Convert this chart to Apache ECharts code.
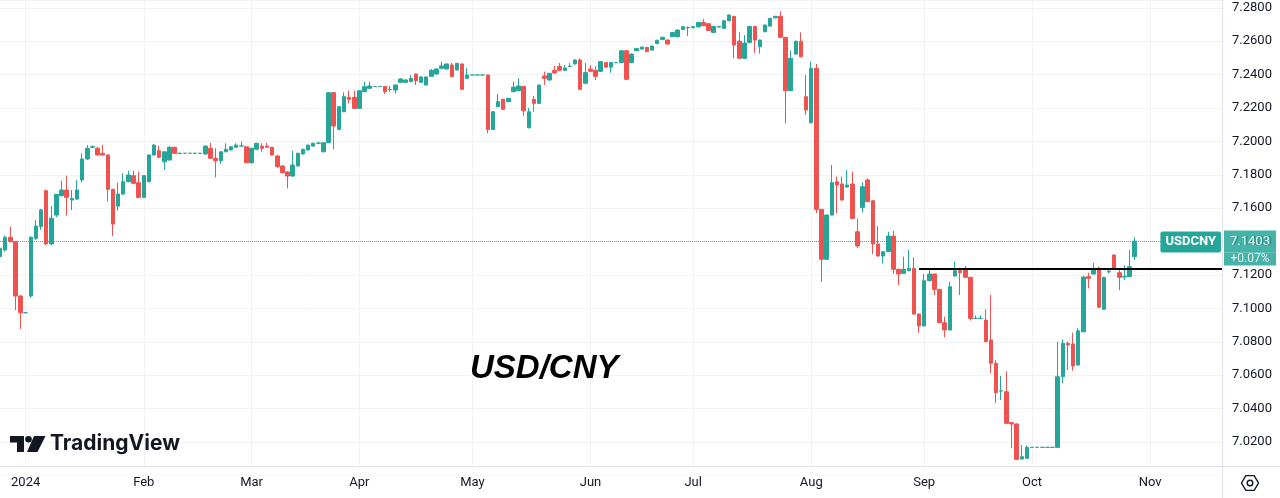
<!DOCTYPE html>
<html><head><meta charset="utf-8">
<script src="https://cdn.jsdelivr.net/npm/echarts@6/dist/echarts.min.js"></script>
<style>html,body{margin:0;padding:0;background:#fff}#c{width:1280px;height:498px}</style>
</head><body><div id="c"></div>
<script>
// ---------- categories (weekday trading days) ----------
const categories = [
'2023-12-25','2023-12-26','2023-12-27','2023-12-28','2023-12-29',
'2024-01-01','2024-01-02','2024-01-03','2024-01-04','2024-01-05','2024-01-08','2024-01-09','2024-01-10','2024-01-11','2024-01-12','2024-01-15','2024-01-16','2024-01-17','2024-01-18','2024-01-19','2024-01-22','2024-01-23','2024-01-24','2024-01-25','2024-01-26','2024-01-29','2024-01-30','2024-01-31',
'2024-02-01','2024-02-02','2024-02-05','2024-02-06','2024-02-07','2024-02-08','2024-02-09','2024-02-12','2024-02-13','2024-02-14','2024-02-15','2024-02-16','2024-02-19','2024-02-20','2024-02-21','2024-02-22','2024-02-23','2024-02-26','2024-02-27','2024-02-28','2024-02-29',
'2024-03-01','2024-03-04','2024-03-05','2024-03-06','2024-03-07','2024-03-08','2024-03-11','2024-03-12','2024-03-13','2024-03-14','2024-03-15','2024-03-18','2024-03-19','2024-03-20','2024-03-21','2024-03-22','2024-03-25','2024-03-26','2024-03-27','2024-03-28','2024-03-29',
'2024-04-01','2024-04-02','2024-04-03','2024-04-04','2024-04-05','2024-04-08','2024-04-09','2024-04-10','2024-04-11','2024-04-12','2024-04-15','2024-04-16','2024-04-17','2024-04-18','2024-04-19','2024-04-22','2024-04-23','2024-04-24','2024-04-25','2024-04-26','2024-04-29','2024-04-30',
'2024-05-01','2024-05-02','2024-05-03','2024-05-06','2024-05-07','2024-05-08','2024-05-09','2024-05-10','2024-05-13','2024-05-14','2024-05-15','2024-05-16','2024-05-17','2024-05-20','2024-05-21','2024-05-22','2024-05-23','2024-05-24','2024-05-27','2024-05-28','2024-05-29','2024-05-30','2024-05-31',
'2024-06-03','2024-06-04','2024-06-05','2024-06-06','2024-06-07','2024-06-10','2024-06-11','2024-06-12','2024-06-13','2024-06-14','2024-06-17','2024-06-18','2024-06-19','2024-06-20','2024-06-21','2024-06-24','2024-06-25','2024-06-26','2024-06-27','2024-06-28',
'2024-07-01','2024-07-02','2024-07-03','2024-07-04','2024-07-05','2024-07-08','2024-07-09','2024-07-10','2024-07-11','2024-07-12','2024-07-15','2024-07-16','2024-07-17','2024-07-18','2024-07-19','2024-07-22','2024-07-23','2024-07-24','2024-07-25','2024-07-26','2024-07-29','2024-07-30','2024-07-31',
'2024-08-01','2024-08-02','2024-08-05','2024-08-06','2024-08-07','2024-08-08','2024-08-09','2024-08-12','2024-08-13','2024-08-14','2024-08-15','2024-08-16','2024-08-19','2024-08-20','2024-08-21','2024-08-22','2024-08-23','2024-08-26','2024-08-27','2024-08-28','2024-08-29','2024-08-30',
'2024-09-02','2024-09-03','2024-09-04','2024-09-05','2024-09-06','2024-09-09','2024-09-10','2024-09-11','2024-09-12','2024-09-13','2024-09-16','2024-09-17','2024-09-18','2024-09-19','2024-09-20','2024-09-23','2024-09-24','2024-09-25','2024-09-26','2024-09-27','2024-09-30',
'2024-10-01','2024-10-02','2024-10-03','2024-10-04','2024-10-07','2024-10-08','2024-10-09','2024-10-10','2024-10-11','2024-10-14','2024-10-15','2024-10-16','2024-10-17','2024-10-18','2024-10-21','2024-10-22','2024-10-23','2024-10-24','2024-10-25','2024-10-28','2024-10-29','2024-10-30','2024-10-31',
'2024-11-01','2024-11-04','2024-11-05','2024-11-06','2024-11-07','2024-11-08','2024-11-11','2024-11-12','2024-11-13','2024-11-14','2024-11-15','2024-11-18','2024-11-19','2024-11-20','2024-11-21'
];
const monthTicks  = ['2024-01-01','2024-02-01','2024-03-01','2024-04-01','2024-05-01','2024-06-03','2024-07-01','2024-08-01','2024-09-02','2024-10-01','2024-11-01'];
const monthLabels = ['2024','Feb','Mar','Apr','May','Jun','Jul','Aug','Sep','Oct','Nov'];

// ---------- OHLC values: [open, close, low, high] ----------
const dec2023 = [
[7.1310,7.1360,7.1300,7.1368],[7.1350,7.1426,7.1340,7.1436],[7.1426,7.1400,7.1396,7.1490],[7.1400,7.1074,7.0990,7.1402],[7.1074,7.0974,7.0877,7.1080]];
const jan2024 = [
[7.0974,7.0974,7.0974,7.0974],[7.1074,7.1426,7.1064,7.1432],[7.1420,7.1493,7.1410,7.1529],[7.1490,7.1590,7.1470,7.1596],[7.1705,7.1386,7.1380,7.1712],
[7.1386,7.1540,7.1380,7.1613],[7.1559,7.1683,7.1547,7.1685],[7.1675,7.1709,7.1670,7.1765],[7.1709,7.1665,7.1555,7.1795],[7.1649,7.1659,7.1589,7.1709],
[7.1655,7.1709,7.1650,7.1769],[7.1769,7.1895,7.1755,7.1929],[7.1895,7.1959,7.1890,7.1978],[7.1965,7.1968,7.1962,7.1978],[7.1959,7.1919,7.1915,7.1968],
[7.1929,7.1919,7.1915,7.1978],[7.1919,7.1713,7.1639,7.1922],[7.1713,7.1505,7.1434,7.1716],[7.1613,7.1685,7.1585,7.1753],[7.1685,7.1759,7.1680,7.1809],
[7.1759,7.1799,7.1755,7.1825],[7.1795,7.1749,7.1745,7.1825],[7.1753,7.1665,7.1660,7.1819]];
const feb2024 = [
[7.1665,7.1795,7.1660,7.1799],[7.1759,7.1919,7.1755,7.1922],[7.1919,7.1978,7.1915,7.1984],[7.1944,7.1905,7.1900,7.1972],[7.1878,7.1938,7.1829,7.1940],
[7.1889,7.1965,7.1885,7.1972],[7.1965,7.1929,7.1925,7.1968],
[7.1929,7.1929,7.1929,7.1929],[7.1929,7.1929,7.1929,7.1929],[7.1929,7.1929,7.1929,7.1929],[7.1929,7.1929,7.1929,7.1929],[7.1929,7.1929,7.1929,7.1929],
[7.1925,7.1972,7.1920,7.1975],[7.1959,7.1899,7.1895,7.1992],[7.1899,7.1884,7.1785,7.1959],[7.1884,7.1938,7.1865,7.1940],[7.1938,7.1953,7.1935,7.1989],
[7.1949,7.1968,7.1945,7.1972],[7.1965,7.1978,7.1962,7.1989],[7.1972,7.1974,7.1970,7.1998],[7.1968,7.1872,7.1870,7.1970]];
const mar2024 = [
[7.1872,7.1959,7.1868,7.1962],[7.1953,7.1989,7.1950,7.1992],[7.1972,7.1959,7.1938,7.1989],[7.1972,7.1965,7.1962,7.1992],[7.1965,7.1919,7.1915,7.1968],
[7.1913,7.1849,7.1841,7.1919],[7.1853,7.1813,7.1808,7.1859],[7.1817,7.1793,7.1719,7.1823],[7.1793,7.1859,7.1788,7.1944],[7.1853,7.1929,7.1850,7.1932],
[7.1925,7.1953,7.1920,7.1956],[7.1949,7.1978,7.1945,7.1980],[7.1972,7.1989,7.1970,7.1992],[7.1989,7.1990,7.1985,7.1998],[7.1938,7.1992,7.1935,7.1995],
[7.1992,7.2292,7.1990,7.2295],[7.2292,7.2092,7.1953,7.2295],[7.2072,7.2208,7.2068,7.2212],[7.2178,7.2268,7.2175,7.2294],[7.2264,7.2252,7.2228,7.2304],
[7.2264,7.2198,7.2195,7.2304]];
const apr2024 = [
[7.2198,7.2304,7.2195,7.2306],[7.2298,7.2328,7.2295,7.2358],[7.2318,7.2332,7.2315,7.2358],[7.2329,7.2329,7.2329,7.2329],[7.2329,7.2329,7.2329,7.2329],
[7.2329,7.2298,7.2284,7.2332],[7.2310,7.2312,7.2298,7.2332],[7.2308,7.2338,7.2288,7.2340],[7.2354,7.2374,7.2350,7.2378],[7.2354,7.2368,7.2350,7.2372],
[7.2358,7.2378,7.2355,7.2398],[7.2404,7.2363,7.2338,7.2406],[7.2354,7.2386,7.2350,7.2390],[7.2338,7.2386,7.2335,7.2390],[7.2390,7.2426,7.2388,7.2434],
[7.2404,7.2434,7.2400,7.2436],[7.2438,7.2452,7.2435,7.2478],[7.2434,7.2464,7.2430,7.2466],[7.2458,7.2388,7.2385,7.2470],[7.2428,7.2468,7.2425,7.2470],
[7.2464,7.2312,7.2308,7.2466],[7.2378,7.2398,7.2375,7.2438]];
const may2024 = [
[7.2398,7.2398,7.2398,7.2398],[7.2398,7.2398,7.2398,7.2398],[7.2398,7.2398,7.2398,7.2398],
[7.2398,7.2072,7.2048,7.2400],[7.2072,7.2178,7.2068,7.2180],[7.2208,7.2238,7.2205,7.2284],[7.2252,7.2192,7.2188,7.2256],[7.2238,7.2258,7.2235,7.2260],
[7.2298,7.2325,7.2295,7.2358],[7.2304,7.2332,7.2300,7.2378],[7.2329,7.2184,7.2152,7.2332],[7.2082,7.2178,7.2078,7.2200],[7.2252,7.2228,7.2178,7.2272],
[7.2228,7.2338,7.2225,7.2340],[7.2392,7.2378,7.2338,7.2418],[7.2368,7.2408,7.2365,7.2410],[7.2426,7.2410,7.2405,7.2452],[7.2450,7.2426,7.2420,7.2470],
[7.2426,7.2440,7.2422,7.2458],[7.2449,7.2451,7.2446,7.2470],[7.2464,7.2488,7.2460,7.2490],[7.2488,7.2312,7.2308,7.2498],[7.2348,7.2412,7.2345,7.2470]];
const jun2024 = [
[7.2434,7.2420,7.2415,7.2458],[7.2426,7.2390,7.2368,7.2450],[7.2420,7.2478,7.2415,7.2480],[7.2472,7.2445,7.2440,7.2475],[7.2445,7.2472,7.2412,7.2475],
[7.2472,7.2472,7.2472,7.2472],[7.2472,7.2543,7.2468,7.2546],[7.2543,7.2372,7.2368,7.2546],[7.2472,7.2523,7.2468,7.2526],[7.2543,7.2557,7.2540,7.2560],
[7.2553,7.2565,7.2550,7.2568],[7.2563,7.2538,7.2535,7.2566],[7.2547,7.2571,7.2544,7.2574],[7.2586,7.2606,7.2583,7.2609],[7.2610,7.2624,7.2607,7.2627],
[7.2607,7.2583,7.2580,7.2610],[7.2628,7.2652,7.2625,7.2655],[7.2627,7.2667,7.2624,7.2670],[7.2671,7.2687,7.2668,7.2690],[7.2681,7.2683,7.2631,7.2687]];
const jul2024 = [
[7.2681,7.2687,7.2678,7.2690],[7.2686,7.2713,7.2683,7.2716],[7.2713,7.2693,7.2690,7.2733],[7.2705,7.2665,7.2662,7.2708],[7.2653,7.2689,7.2650,7.2692],
[7.2685,7.2689,7.2682,7.2692],[7.2677,7.2723,7.2674,7.2726],[7.2723,7.2757,7.2720,7.2760],[7.2749,7.2577,7.2498,7.2752],[7.2600,7.2498,7.2495,7.2654],
[7.2498,7.2589,7.2495,7.2637],[7.2593,7.2688,7.2590,7.2691],[7.2688,7.2607,7.2531,7.2691],[7.2567,7.2607,7.2527,7.2610],[7.2657,7.2697,7.2654,7.2700],
[7.2691,7.2737,7.2688,7.2740],[7.2740,7.2749,7.2737,7.2752],[7.2749,7.2623,7.2620,7.2779],[7.2623,7.2304,7.2108,7.2626],[7.2304,7.2498,7.2300,7.2543],
[7.2523,7.2600,7.2520,7.2603],[7.2600,7.2507,7.2504,7.2653],[7.2268,7.2188,7.2158,7.2398]];
const aug2024 = [
[7.2112,7.2438,7.2108,7.2478],[7.2438,7.1593,7.1570,7.2464],[7.1593,7.1294,7.1160,7.1596],[7.1294,7.1559,7.1290,7.1562],[7.1559,7.1753,7.1556,7.1859],
[7.1759,7.1739,7.1569,7.1789],[7.1745,7.1649,7.1645,7.1789],[7.1727,7.1739,7.1724,7.1829],[7.1745,7.1539,7.1536,7.1819],[7.1459,7.1374,7.1362,7.1539],
[7.1605,7.1729,7.1575,7.1755],[7.1769,7.1639,7.1636,7.1779],[7.1645,7.1386,7.1326,7.1648],[7.1386,7.1314,7.1310,7.1493],[7.1314,7.1340,7.1270,7.1343],
[7.1340,7.1433,7.1337,7.1459],[7.1433,7.1234,7.1206,7.1465],[7.1234,7.1206,7.1140,7.1237],[7.1210,7.1234,7.1207,7.1310],[7.1226,7.1240,7.1223,7.1350],
[7.1240,7.0966,7.0963,7.1306],[7.0966,7.0895,7.0854,7.0969]];
const sep2024 = [
[7.0895,7.1166,7.0892,7.1206],[7.1166,7.1206,7.1163,7.1234],[7.1206,7.1114,7.1080,7.1209],[7.1114,7.0914,7.0911,7.1117],[7.0914,7.0871,7.0827,7.0950],
[7.0871,7.1130,7.0868,7.1160],[7.1194,7.1226,7.1190,7.1280],[7.1226,7.1214,7.1080,7.1240],[7.1240,7.1186,7.1183,7.1254],[7.1186,7.0940,7.0927,7.1189],
[7.0940,7.0940,7.0940,7.0958],[7.0940,7.0940,7.0940,7.0958],[7.0930,7.0801,7.0798,7.0995],[7.0811,7.0671,7.0611,7.1080],[7.0671,7.0495,7.0432,7.0690],
[7.0505,7.0507,7.0451,7.0595],[7.0501,7.0312,7.0309,7.0625],[7.0316,7.0308,7.0162,7.0318],[7.0308,7.0096,7.0093,7.0311],[7.0098,7.0112,7.0096,7.0182],
[7.0102,7.0168,7.0100,7.0180]];
const oct2024 = [
[7.0168,7.0168,7.0168,7.0168],[7.0168,7.0168,7.0168,7.0168],[7.0168,7.0168,7.0168,7.0168],[7.0168,7.0168,7.0168,7.0168],[7.0168,7.0168,7.0168,7.0168],
[7.0168,7.0591,7.0165,7.0800],[7.0591,7.0791,7.0551,7.0815],[7.0791,7.0781,7.0631,7.0801],[7.0787,7.0655,7.0627,7.0855],[7.0661,7.0866,7.0658,7.0881],
[7.0860,7.1188,7.0857,7.1195],[7.1190,7.1180,7.1120,7.1214],[7.1206,7.1234,7.1203,7.1274],[7.1240,7.1007,7.1004,7.1250],[7.0995,7.1186,7.0990,7.1189],
[7.1218,7.1222,7.1210,7.1234],[7.1320,7.1240,7.1237,7.1323],[7.1214,7.1186,7.1110,7.1240],[7.1188,7.1192,7.1170,7.1260],[7.1190,7.1250,7.1187,7.1350],
[7.1310,7.1403,7.1290,7.1426]];

const symbolName = 'USDCNY';
const changeText = '+0.07%';
const resistanceLevel = 7.1236;
const resistanceStart = '2024-08-30';

// ---------- build ----------
const ohlc = [].concat(dec2023, jan2024, feb2024, mar2024, apr2024, may2024, jun2024, jul2024, aug2024, sep2024, oct2024);
const lastClose = ohlc[ohlc.length - 1][1];
const UP = '#26a69a', DOWN = '#ef5350';
const TXT = '#131722';
const FONT = 'Roboto, "Noto Sans", sans-serif';
const GRID = '#f0f2f6';
const isMonthTick = (i, v) => monthTicks.indexOf(v) >= 0;

const chart = echarts.init(document.getElementById('c'), null, {renderer: 'canvas', width: 1280, height: 498});
chart.setOption({
  animation: false,
  backgroundColor: '#ffffff',
  grid: {left: 0, right: 58, top: 0, bottom: 22.6, containLabel: false},
  xAxis: {
    type: 'category', data: categories, boundaryGap: false,
    axisLine: {show: false, onZero: false}, axisTick: {show: false},
    axisLabel: {
      interval: isMonthTick, margin: 1, color: TXT, fontSize: 13, fontFamily: FONT,
      formatter: v => monthLabels[monthTicks.indexOf(v)]
    },
    splitLine: {show: true, interval: isMonthTick, lineStyle: {color: GRID, width: 1}}
  },
  yAxis: {
    type: 'value', position: 'right', min: 7.00, max: 7.2847, interval: 0.02, scale: true,
    axisLine: {show: false}, axisTick: {show: false},
    axisLabel: {
      margin: 10, color: TXT, fontSize: 13, fontFamily: FONT,
      showMinLabel: false, showMaxLabel: false,
      formatter: v => v.toFixed(4)
    },
    splitLine: {show: true, lineStyle: {color: GRID, width: 1}}
  },
  series: [{
    type: 'candlestick',
    data: ohlc,
    barWidth: 4,
    itemStyle: {
      color: UP, color0: DOWN, borderColor: UP, borderColor0: DOWN,
      borderColorDoji: UP, borderWidth: 1
    },
    markLine: {
      silent: true, symbol: ['none', 'none'], animation: false,
      data: [
        {
          yAxis: lastClose,
          lineStyle: {type: 'dotted', color: UP, width: 1, opacity: 0.85},
          label: {
            show: true, position: 'end', distance: 2,
            formatter: '{s| }\n{p|' + lastClose.toFixed(4) + '}\n{c|' + changeText + '}',
            rich: {
              s: {height: 13, lineHeight: 13, fontSize: 1},
              p: {backgroundColor: UP, color: '#fff', fontSize: 13, fontFamily: FONT, width: 44, height: 22, lineHeight: 22, padding: [0, 4], align: 'center'},
              c: {backgroundColor: UP, color: '#fff', fontSize: 12, fontFamily: FONT, width: 44, height: 13, lineHeight: 13, padding: [0, 4], align: 'center'}
            }
          }
        },
        {
          yAxis: lastClose,
          lineStyle: {color: 'rgba(0,0,0,0)', width: 1, type: 'solid'},
          label: {
            show: true, position: 'insideEndTop', distance: [1, -11],
            formatter: symbolName, color: '#fff', fontSize: 13, fontWeight: 'bold', fontFamily: FONT,
            backgroundColor: UP, padding: [4, 5, 4, 5], borderRadius: 2
          }
        },
        [
          {coord: [resistanceStart, resistanceLevel], lineStyle: {color: '#000', width: 2, type: 'solid'}, label: {show: false}},
          {coord: [categories[categories.length - 1], resistanceLevel]}
        ]
      ]
    }
  }],
  graphic: [
    {type: 'rect', z: 50, silent: true, shape: {x: 0, y: 467, width: 1222, height: 8.5}, style: {fill: '#fff'}},
    {type: 'line', z: 51, silent: true, shape: {x1: 0, y1: 466.5, x2: 1280, y2: 466.5}, style: {stroke: '#e0e3eb', lineWidth: 1}},
    {type: 'line', z: 51, silent: true, shape: {x1: 1222.5, y1: 0, x2: 1222.5, y2: 498}, style: {stroke: '#e0e3eb', lineWidth: 1}},
    {type: 'text', z: 52, silent: true, x: 470, y: 369,
      style: {text: 'USD/CNY', fill: '#000', fontSize: 33, fontWeight: 'bold', fontStyle: 'italic', fontFamily: '"Liberation Sans", Arial, sans-serif', verticalAlign: 'middle'}},
    // TradingView logo
    {type: 'rect', z: 52, silent: true, shape: {x: 10, y: 436, width: 14, height: 6.5}, style: {fill: TXT}},
    {type: 'rect', z: 52, silent: true, shape: {x: 17, y: 436, width: 7, height: 16}, style: {fill: TXT}},
    {type: 'circle', z: 52, silent: true, shape: {cx: 28.5, cy: 439.3, r: 3.3}, style: {fill: TXT}},
    {type: 'polygon', z: 52, silent: true, shape: {points: [[34, 436], [45.5, 436], [37.5, 452], [27, 452]]}, style: {fill: TXT}},
    {type: 'text', z: 52, silent: true, x: 50, y: 444,
      style: {text: 'TradingView', fill: TXT, fontSize: 21, fontWeight: 'bold', fontFamily: 'Inter, Roboto, sans-serif', verticalAlign: 'middle'}},
    // settings icon
    {type: 'polygon', z: 52, silent: true, shape: {points: [[1241.5, 483], [1245.8, 475.6], [1254.2, 475.6], [1258.5, 483], [1254.2, 490.4], [1245.8, 490.4]]}, style: {fill: 'none', stroke: TXT, lineWidth: 1.4}},
    {type: 'circle', z: 52, silent: true, shape: {cx: 1250, cy: 483, r: 2.8}, style: {fill: 'none', stroke: TXT, lineWidth: 1.4}}
  ]
});
</script>
</body></html>
